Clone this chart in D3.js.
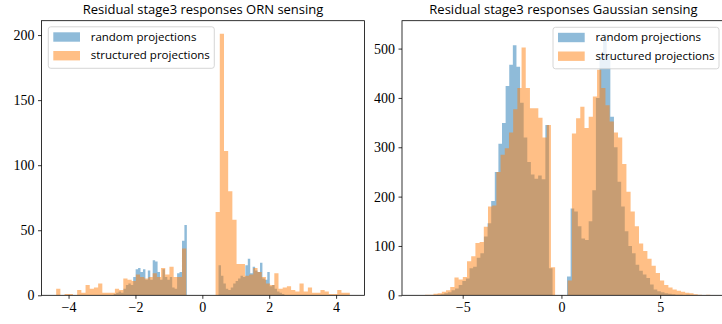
<!DOCTYPE html>
<html>
<head>
<meta charset="utf-8">
<script src="https://cdn.jsdelivr.net/npm/d3@7"></script>
<style>
  html, body { margin: 0; padding: 0; background: #fff; }
  svg { display: block; }
</style>
</head>
<body>
<script>
// histogram counts, one array per series
// each series: first bin edge, bin width, counts (70 bins)
const ornRandomStart = -2.65, ornRandomWidth = 0.0729;
const ornRandomCounts = [
  1, 2, 3, 2, 5, 8, 9, 8, 14, 20, 21, 18, 20, 12, 19, 12, 27, 26, 18, 12,
  20, 14, 12, 14, 6, 5, 17, 18, 42, 54,
  0, 0, 0, 0, 0, 0, 0, 0, 0, 0, 0, 0, 0,
  23, 15, 9, 5, 4, 6, 9, 11, 13, 15, 14, 23, 28, 17, 22, 19, 18, 25, 13, 12,
  18, 7, 8, 5, 3, 2, 1
];

const ornStructStart = -4.37, ornStructWidth = 0.12543;
const ornStructCounts = [
  5, 0, 1, 1, 0, 4, 2, 8, 5, 6, 9, 2, 2, 2, 5, 4, 13, 12, 11, 16,
  14, 13, 14, 17, 14, 21, 16, 22, 14, 14, 36,
  0, 0, 0, 0, 0, 0, 0,
  64, 201, 111, 80, 58, 24, 24, 15, 16, 21, 18, 14, 9, 8, 17, 5, 6, 7, 4, 3,
  9, 3, 6, 2, 2, 4, 3, 1, 1, 4, 2, 2
];

const gaussRandomStart = -6.3, gaussRandomWidth = 0.18286;
const gaussRandomCounts = [
  1, 2, 4, 6, 10, 14, 21, 29, 34, 55, 58, 76, 85, 119, 146, 191, 250, 307, 349, 424,
  467, 507, 463, 390, 320, 270, 245, 236, 243, 235, 345, 55,
  0, 0, 0, 0,
  38, 176, 170, 140, 115, 112, 150, 213, 400, 480, 530, 485, 362,
  300, 230, 180, 130, 100, 85, 62, 50, 42, 35, 22, 12, 8, 6, 4, 3, 2, 1, 1, 0, 1
];

const gaussStructStart = -7.33, gaussStructWidth = 0.21243;
const gaussStructCounts = [
  0, 0, 1, 1,
  3, 4, 7, 10, 17, 36, 32, 37, 69, 79, 106, 108, 139, 180, 182,
  250, 285, 298, 330, 377, 420, 502, 420, 379, 379, 360, 320, 345, 57,
  0, 0, 0,
  30, 328, 359, 382, 339, 362, 403, 457,
  420, 385, 352, 330, 320, 266, 210, 170, 140, 105, 90, 74, 60, 45, 30, 21, 16, 12,
  9, 7, 5, 4, 2, 1, 0, 1
];

const seriesNames = ["random projections", "structured projections"];
const ornXTicks = [-4, -2, 0, 2, 4];
const ornYTicks = [0, 50, 100, 150, 200];
const gaussXTicks = [-5, 0, 5];
const gaussYTicks = [0, 100, 200, 300, 400, 500];

const W = 722, H = 324;
const plotTop = 20.7, plotBottom = 295.3;
const colors = ["#1f77b4", "#ff7f0e"];
const sansFont = "'Open Sans', Lato, 'DejaVu Sans', sans-serif";
const serifFont = "'Liberation Serif', 'DejaVu Serif', serif";

const svg = d3.select("body").append("svg")
  .attr("width", W).attr("height", H);

// bin edges with counts; the last point closes the final bin for the step curve
function toSteps(start, width, counts) {
  const pts = counts.map((c, i) => ({ x: start + i * width, c }));
  pts.push({ x: start + counts.length * width, c: counts[counts.length - 1] });
  return pts;
}

function drawPanel(opts) {
  const series = [
    toSteps(opts.randStart, opts.randWidth, opts.randCounts),
    toSteps(opts.structStart, opts.structWidth, opts.structCounts)
  ];
  // matplotlib-style limits: data extent plus 5% margins
  const lo = d3.min(series, s => s[0].x), hi = d3.max(series, s => s[s.length - 1].x);
  const pad = (hi - lo) * 0.05;
  const ymax = d3.max(series, s => d3.max(s, d => d.c)) * 1.05;

  const x = d3.scaleLinear().domain([lo - pad, hi + pad]).range([opts.left, opts.right]);
  const y = d3.scaleLinear().domain([0, ymax]).range([plotBottom, plotTop]);

  const g = svg.append("g");
  const clipId = "clip" + opts.id;
  g.append("clipPath").attr("id", clipId).append("rect")
    .attr("x", opts.left).attr("y", plotTop)
    .attr("width", opts.right - opts.left).attr("height", plotBottom - plotTop);

  // each histogram as one stepped area, so adjacent bars have no seams
  const area = d3.area()
    .curve(d3.curveStepAfter)
    .x(d => x(d.x))
    .y0(y(0))
    .y1(d => y(d.c));

  g.append("g").attr("clip-path", `url(#${clipId})`)
    .selectAll("path")
    .data(series)
    .join("path")
    .attr("d", area)
    .attr("fill", (d, k) => colors[k])
    .attr("fill-opacity", 0.5);

  const fmt = d3.format("d");
  const xAxis = g.append("g")
    .attr("transform", `translate(0,${plotBottom})`)
    .call(d3.axisBottom(x).tickValues(opts.xTicks).tickFormat(fmt).tickSize(3.5).tickPadding(3.5));
  const yAxis = g.append("g")
    .attr("transform", `translate(${opts.left},0)`)
    .call(d3.axisLeft(y).tickValues(opts.yTicks).tickFormat(fmt).tickSize(3.5).tickPadding(3.5));
  [xAxis, yAxis].forEach(a => {
    a.select(".domain").remove();
    a.selectAll("line").attr("stroke", "#000").attr("stroke-width", 0.8);
    a.selectAll("text")
      .attr("fill", "#000")
      .style("font-family", serifFont)
      .style("font-size", "14px");
  });

  // box spines
  g.append("rect")
    .attr("x", opts.left).attr("y", plotTop)
    .attr("width", opts.right - opts.left).attr("height", plotBottom - plotTop)
    .attr("fill", "none").attr("stroke", "#000").attr("stroke-width", 0.8);

  g.append("text")
    .attr("x", (opts.left + opts.right) / 2).attr("y", 14)
    .attr("text-anchor", "middle")
    .style("font-family", sansFont)
    .style("font-size", "13px")
    .text(opts.title);

  // legend
  const lw = 166, lh = 41.5;
  const lx = opts.legendRight ? opts.right - 6 - lw : opts.left + 6.8;
  const ly = opts.legendRight ? 27.3 : 26.8;
  const leg = g.append("g").attr("transform", `translate(${lx},${ly})`);
  leg.append("rect")
    .attr("width", lw).attr("height", lh).attr("rx", 2.5)
    .attr("fill", "#fff").attr("fill-opacity", 0.8)
    .attr("stroke", "#cccccc").attr("stroke-width", 0.8);
  seriesNames.forEach((name, k) => {
    leg.append("rect")
      .attr("x", 5).attr("y", 5.5 + k * 18.7)
      .attr("width", 26.7).attr("height", 9.4)
      .attr("fill", colors[k]).attr("fill-opacity", 0.5);
    leg.append("text")
      .attr("x", 42.4).attr("y", 14 + k * 18.7)
      .style("font-family", sansFont)
      .style("font-size", "11.5px")
      .text(name);
  });
}

drawPanel({
  id: "orn", left: 41.5, right: 364.5, legendRight: false,
  title: "Residual stage3 responses ORN sensing",
  randStart: ornRandomStart, randWidth: ornRandomWidth, randCounts: ornRandomCounts,
  structStart: ornStructStart, structWidth: ornStructWidth, structCounts: ornStructCounts,
  xTicks: ornXTicks, yTicks: ornYTicks
});

drawPanel({
  id: "gauss", left: 402, right: 725, legendRight: true,
  title: "Residual stage3 responses Gaussian sensing",
  randStart: gaussRandomStart, randWidth: gaussRandomWidth, randCounts: gaussRandomCounts,
  structStart: gaussStructStart, structWidth: gaussStructWidth, structCounts: gaussStructCounts,
  xTicks: gaussXTicks, yTicks: gaussYTicks
});
</script>
</body>
</html>
